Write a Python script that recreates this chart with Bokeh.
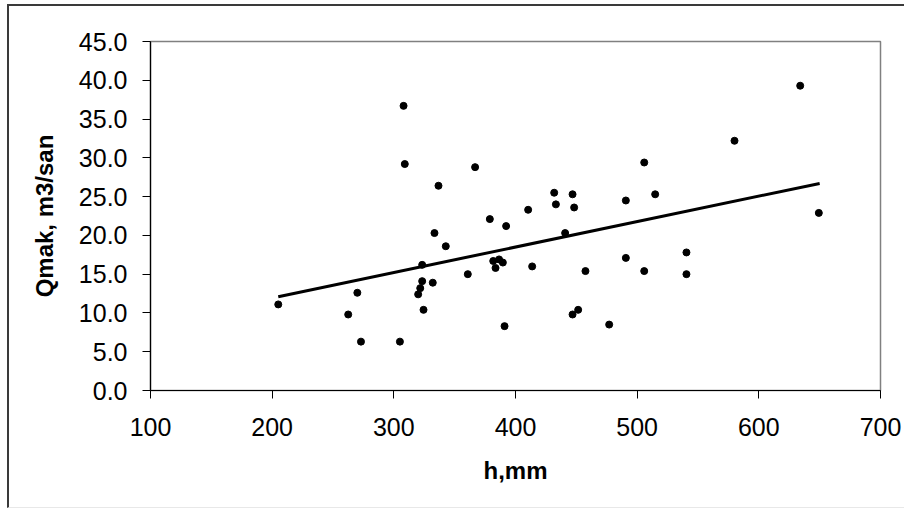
from bokeh.plotting import figure
from bokeh.models import Range1d, FixedTicker, NumeralTickFormatter
from bokeh.embed import file_html
from bokeh.resources import INLINE

# data
h_mm = [205, 262.5, 270, 273, 305, 308, 309, 320, 321.7, 323.3, 323.3, 324.4,
        332, 333.4, 336.7, 342.7, 360.8, 366.8, 378.9, 381.7, 383.6, 386.5,
        389.6, 391, 392.3, 410.4, 413.7, 431.8, 433.2, 440.8, 446.9, 448.2,
        446.9, 451.5, 457.5, 477, 490.7, 490.7, 505.8, 505.8, 514.8, 540.5,
        540.5, 580, 634, 649.3]
q_max = [11.1, 9.8, 12.6, 6.3, 6.3, 36.7, 29.2, 12.4, 13.2, 14.1, 16.2, 10.4,
         13.9, 20.3, 26.4, 18.6, 15.0, 28.8, 22.1, 16.7, 15.8, 16.9,
         16.5, 8.3, 21.2, 23.3, 16.0, 25.5, 24.0, 20.3, 25.3, 23.6,
         9.8, 10.4, 15.4, 8.5, 24.5, 17.1, 29.4, 15.4, 25.3, 17.8,
         15.0, 32.2, 39.3, 22.9]
trend_x = [205, 650]
trend_y = [12.1, 26.7]
x_ticks = [100, 200, 300, 400, 500, 600, 700]
y_ticks = [0, 5, 10, 15, 20, 25, 30, 35, 40, 45]

FONT = "Liberation Sans"

p = figure(frame_width=730, frame_height=349,
           min_border_left=141, min_border_right=24,
           min_border_top=35, min_border_bottom=117,
           x_range=Range1d(100, 700), y_range=Range1d(0, 45),
           output_backend="svg", toolbar_location=None,
           background_fill_color="white", border_fill_color="white")
p.styles = {"margin-left": "7px", "margin-top": "4px",
            "border-left": "2px solid #3a3a3a", "border-top": "2px solid #3a3a3a",
            "border-bottom": "1px solid #e8e8e8"}

p.xgrid.visible = False
p.ygrid.visible = False
p.outline_line_color = "#808080"
p.outline_line_width = 1.5

p.xaxis.ticker = FixedTicker(ticks=x_ticks)
p.yaxis.ticker = FixedTicker(ticks=y_ticks)
p.yaxis.formatter = NumeralTickFormatter(format="0.0")

for ax in (p.xaxis[0], p.yaxis[0]):
    ax.axis_line_color = "black"
    ax.axis_line_width = 1.2
    ax.major_tick_line_color = "black"
    ax.major_tick_in = 0
    ax.major_tick_out = 8
    ax.minor_tick_line_color = None
    ax.major_label_text_font = FONT
    ax.major_label_text_font_size = "25px"
    ax.major_label_text_color = "black"
    ax.axis_label_text_font = FONT
    ax.axis_label_text_font_size = "24px"
    ax.axis_label_text_font_style = "bold"
    ax.axis_label_text_color = "black"

p.xaxis.axis_label = "h,mm"
p.yaxis.axis_label = "Qmak, m3/san"
p.xaxis.major_label_standoff = 19
p.yaxis.major_label_standoff = 15
p.xaxis.axis_label_standoff = 18
p.yaxis.axis_label_standoff = 18

p.line(trend_x, trend_y, line_color="black", line_width=3)
p.scatter(h_mm, q_max, size=7, fill_color="black", line_color="black")

open("out.html", "w").write(file_html(p, INLINE))
